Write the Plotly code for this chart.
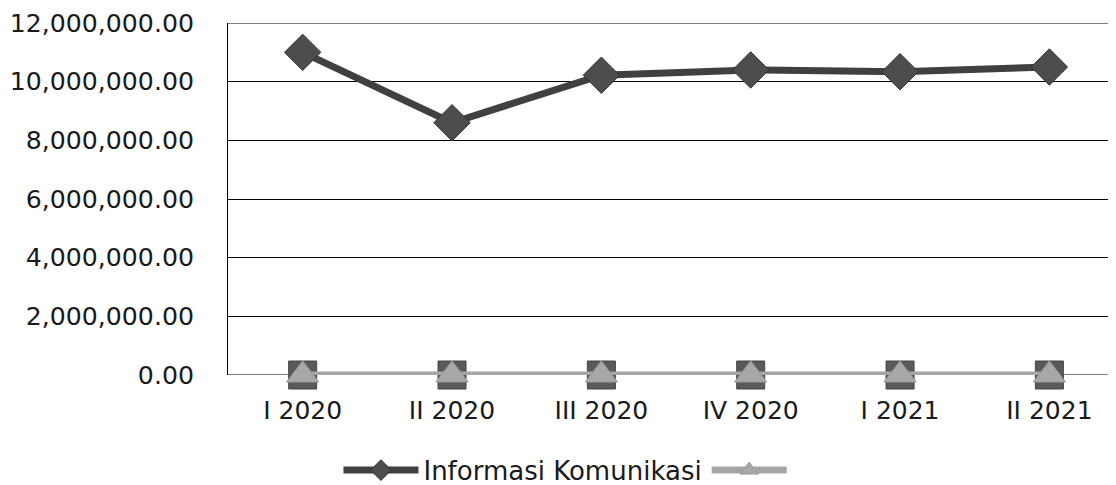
import plotly.graph_objects as go

categories = ["I 2020", "II 2020", "III 2020", "IV 2020", "I 2021", "II 2021"]
informasi_komunikasi = [11000000, 8600000, 10220000, 10400000, 10340000, 10500000]
series_two = [0, 0, 0, 0, 0, 0]
series_three = [0, 0, 0, 0, 0, 0]
y_ticks = [0, 2000000, 4000000, 6000000, 8000000, 10000000, 12000000]

FONT = "'DejaVu Sans', Verdana, sans-serif"

fig = go.Figure()
fig.add_trace(go.Scatter(
    x=categories, y=series_three, mode="markers", showlegend=False,
    marker=dict(symbol="square", size=28, color="#5a5a5a", line=dict(color="#444444", width=1)),
    cliponaxis=False, hoverinfo="skip"))
fig.add_trace(go.Scatter(
    x=categories, y=series_two, mode="lines+markers", name=" ", legendrank=2,
    line=dict(color="#a6a6a6", width=7),
    marker=dict(symbol="triangle-up", size=28, color="#a8a8a8", line=dict(color="#9a9a9a", width=1)),
    cliponaxis=False))
fig.add_trace(go.Scatter(
    x=categories, y=informasi_komunikasi, mode="lines+markers", name="Informasi Komunikasi", legendrank=1,
    line=dict(color="#404040", width=7),
    marker=dict(symbol="diamond", size=28, color="#4d4d4d", line=dict(color="#333333", width=1)),
    cliponaxis=False))

# top border gridline (12M) and zero line
for yv in (y_ticks[0], y_ticks[-1]):
    fig.add_shape(type="line", xref="paper", yref="y", x0=0, x1=1, y0=yv, y1=yv,
                  line=dict(color="#000000", width=1), layer="below")

# page body has an 8px margin, so the figure is sized/offset to compensate
fig.update_layout(
    width=1108, height=477,
    margin=dict(l=220, r=0, t=15, b=110),
    paper_bgcolor="white", plot_bgcolor="white",
    font=dict(family=FONT, size=22, color="#1a1a1a"),
    showlegend=True,
    legend=dict(orientation="h", xref="container", yref="container", x=0.509, y=0.031,
                xanchor="center", yanchor="middle", font=dict(size=26, family=FONT),
                itemwidth=75, traceorder="normal", bgcolor="rgba(0,0,0,0)"),
)
fig.update_xaxes(type="category", range=[-0.5, 5.446], showgrid=False, zeroline=False,
                 showline=False, ticks="", ticklabelstandoff=18, automargin=False,
                 tickfont=dict(size=25, family=FONT))
fig.update_yaxes(range=[0, 12000000], tickvals=y_ticks, tickformat=",.2f",
                 showgrid=True, gridcolor="#000000", gridwidth=1, zeroline=False,
                 showline=True, linecolor="#000000", linewidth=1, ticks="", automargin=False,
                 ticklabeloverflow="allow",
                 ticklabelstandoff=28, tickfont=dict(size=25.2, family=FONT))

fig.write_html("out.html")
